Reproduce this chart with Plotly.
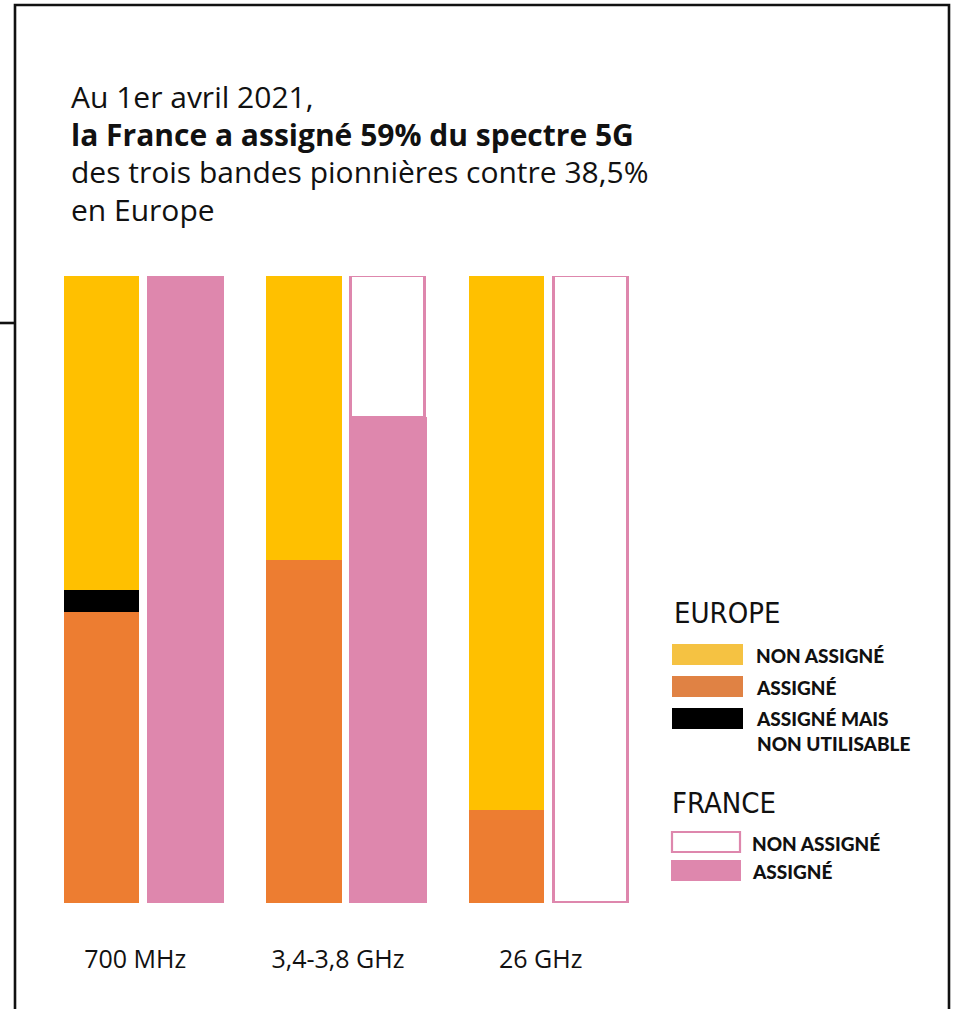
import plotly.graph_objects as go

# ---- data ----
bands = ["700 MHz", "3,4-3,8 GHz", "26 GHz"]
europe_assigne = [46.4, 54.7, 14.9]
europe_inutilisable = [3.5, 0, 0]
europe_non_assigne = [50.1, 45.3, 85.1]
france_assigne = [100, 77.4, 0]
france_non_assigne = [0, 22.6, 100]

title_lines = ["Au 1er avril 2021,",
               "<b>la France a assigné 59% du spectre 5G</b>",
               "des trois bandes pionnières contre 38,5%",
               "en Europe"]

# ---- style ----
W, H = 953, 1009
T, B = 276, 106
PLOT_H = H - T - B
YELLOW = "#FFC000"
ORANGE = "#ED7D31"
BLACK = "#000000"
PINK = "#DE87AD"
LEG_YELLOW = "#F5C242"
LEG_ORANGE = "#E08244"
BODY = "'Open Sans', Lato, sans-serif"
LEGF = "Lato, 'Open Sans', sans-serif"
COND = "'Liberation Sans Narrow', 'DejaVu Sans Condensed', sans-serif"

def px(x):
    return x / W

def py(y):
    return (H - B - y) / PLOT_H

idx = list(range(len(bands)))
off = 0.207
bw = 0.372
xe = [i - off for i in idx]
xf = [i + off for i in idx]

fig = go.Figure()
fig.add_bar(x=xe, y=europe_assigne, width=bw, marker=dict(color=ORANGE, line_width=0), name="Europe assigné")
fig.add_bar(x=xe, y=europe_inutilisable, width=bw, marker=dict(color=BLACK, line_width=0), name="Europe inutilisable")
fig.add_bar(x=xe, y=europe_non_assigne, width=bw, marker=dict(color=YELLOW, line_width=0), name="Europe non assigné")
fig.add_bar(x=xf, y=france_assigne, width=bw, marker=dict(color=PINK, line=dict(color=PINK, width=2.5)), name="France assigné")
fig.add_bar(x=xf, y=france_non_assigne, width=bw - 0.008, marker=dict(color="white", line=dict(color=PINK, width=2.8)), name="France non assigné")

unit = 202.75
x0 = -143.25 / unit
x1 = x0 + W / unit

fig.update_layout(
    width=W, height=H,
    margin=dict(l=0, r=0, t=T, b=B, pad=0),
    barmode="stack",
    bargap=0,
    showlegend=False,
    plot_bgcolor="white",
    paper_bgcolor="white",
    hovermode=False,
    xaxis=dict(range=[x0, x1], showgrid=False, zeroline=False, showline=False,
               tickvals=[i - 0.04 for i in idx], ticktext=bands,
               ticks="outside", ticklen=34, tickcolor="rgba(0,0,0,0)",
               tickfont=dict(family=BODY, size=25, color="#111111")),
    yaxis=dict(range=[0, 100], visible=False, showgrid=False, zeroline=False),
)

# frame
frame = f"M {px(15)},{py(1030)} L {px(15)},{py(5)} L {px(949)},{py(5)} L {px(949)},{py(1030)}"
fig.add_shape(type="path", xref="paper", yref="paper", path=frame,
              line=dict(color="#111111", width=2.6))
fig.add_shape(type="line", xref="paper", yref="paper", x0=px(0), x1=px(15), y0=py(323), y1=py(323),
              line=dict(color="#111111", width=2.6))

# title
title_y = [96, 134, 172, 210]
for i, (line, yy) in enumerate(zip(title_lines, title_y)):
    fig.add_annotation(text=line, xref="paper", yref="paper", x=px(69), y=py(yy),
                       xanchor="left", yanchor="middle", showarrow=False,
                       font=dict(family=BODY, size=30, color="#111111"))

# legend
fig.add_annotation(text="EUROPE", xref="paper", yref="paper", x=px(672), y=py(613),
                   xanchor="left", yanchor="middle", showarrow=False,
                   font=dict(family=COND, size=29, color="#111111"))
fig.add_annotation(text="FRANCE", xref="paper", yref="paper", x=px(670), y=py(803),
                   xanchor="left", yanchor="middle", showarrow=False,
                   font=dict(family=COND, size=29, color="#111111"))

leg = [
    (LEG_YELLOW, None, 672, 743, 644, 665, "NON ASSIGNÉ", 754, 655),
    (LEG_ORANGE, None, 672, 743, 676, 697, "ASSIGNÉ", 754, 687),
    (BLACK, None, 672, 743, 708, 729, "ASSIGNÉ MAIS<br>NON UTILISABLE", 754, 731),
    ("white", PINK, 672, 740, 832, 852, "NON ASSIGNÉ", 750, 843),
    (PINK, None, 671, 741, 860, 881, "ASSIGNÉ", 750, 871),
]
for fill, edge, a, b, c, d, txt, tx, ty in leg:
    fig.add_shape(type="rect", xref="paper", yref="paper", x0=px(a), x1=px(b), y0=py(d), y1=py(c),
                  fillcolor=fill, line=dict(color=edge if edge else fill, width=2.2 if edge else 0))
    fig.add_annotation(text=txt, xref="paper", yref="paper", x=px(tx), y=py(ty),
                       xanchor="left", yanchor="middle", align="left", showarrow=False,
                       font=dict(family=LEGF, size=19, color="#111111", weight=900))

fig.write_html("out.html",
               config={"displayModeBar": False},
               post_script="document.body.style.margin='0';document.body.style.overflow='hidden';")
